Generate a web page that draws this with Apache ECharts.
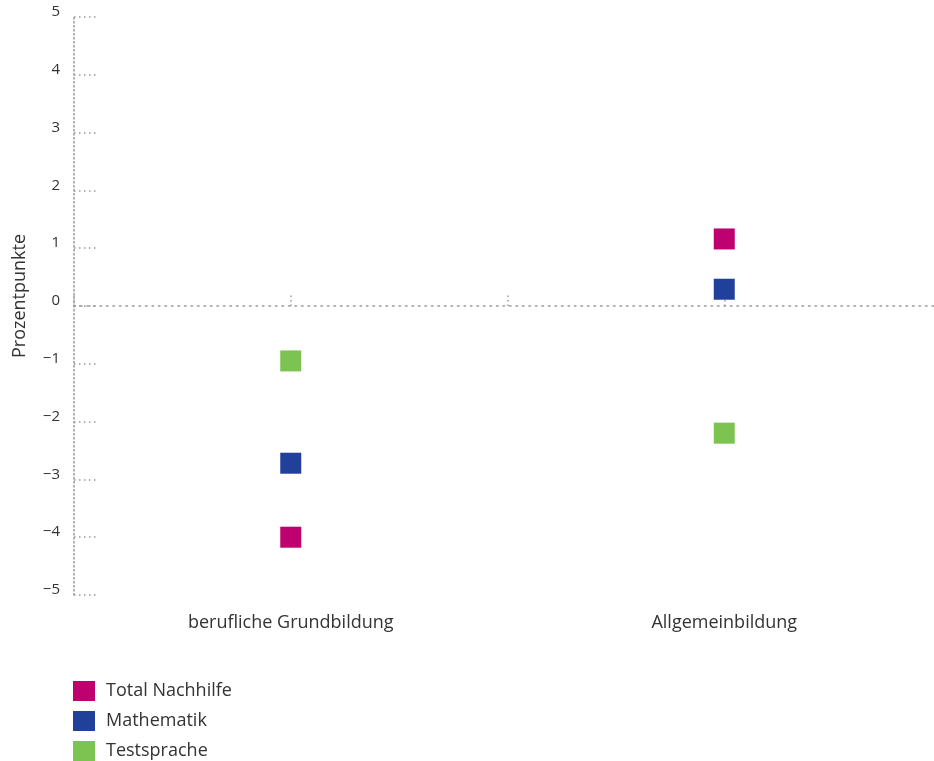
<!DOCTYPE html>
<html>
<head>
<meta charset="utf-8">
<title>Nachhilfe</title>
<script src="https://cdn.jsdelivr.net/npm/echarts@6/dist/echarts.min.js"></script>
<style>
  html, body { margin: 0; padding: 0; background: #fff; }
  #chart { width: 934px; height: 761px; }
</style>
</head>
<body>
<div id="chart"></div>
<script>
// Kategorien und Werte (Prozentpunkte)
const categories = ['berufliche Grundbildung', 'Allgemeinbildung'];
const seriesNames = ['Total Nachhilfe', 'Mathematik', 'Testsprache'];
const totalNachhilfe = [-4.0, 1.16];
const mathematik = [-2.72, 0.29];
const testsprache = [-0.95, -2.2];
const yTicks = [-5, -4, -3, -2, -1, 0, 1, 2, 3, 4, 5];

const colors = ['#bf006f', '#21409a', '#7dc352'];
const font = '"Open Sans", "Noto Sans", sans-serif';
const dotGrey = '#999';

const chart = echarts.init(document.getElementById('chart'));

function scatter(name, values, color) {
  return {
    name: name,
    type: 'scatter',
    xAxisIndex: 0,
    yAxisIndex: 0,
    symbol: 'rect',
    symbolSize: 21,
    itemStyle: { color: color, opacity: 1 },
    data: values
  };
}

const tickDots = { color: dotGrey, width: 1.5, type: [1.5, 3] };

const option = {
  animation: false,
  color: colors,
  textStyle: { fontFamily: font },
  grid: { left: 74, right: -7, top: 17, bottom: 166, outerBoundsMode: 'none', containLabel: false },
  legend: {
    orient: 'vertical',
    left: 73,
    top: 681,
    padding: 0,
    itemWidth: 22,
    itemHeight: 20,
    itemGap: 10,
    icon: 'rect',
    textStyle: { fontSize: 18, lineHeight: 20, color: '#333', fontFamily: font, padding: [0, 0, 0, 6] },
    data: seriesNames
  },
  xAxis: [
    {
      // Beschriftung unten
      type: 'category',
      data: categories,
      position: 'bottom',
      axisLine: { show: false, onZero: false },
      axisTick: { show: false },
      axisLabel: { margin: 19, fontSize: 18, color: '#333', fontFamily: font },
      splitLine: { show: false }
    },
    {
      // Nulllinie mit Grenzstrichen
      type: 'category',
      data: categories,
      position: 'bottom',
      axisLine: { show: true, onZero: true, onZeroAxisIndex: 0, lineStyle: { color: dotGrey, width: 1.5, type: [1.5, 5] } },
      axisTick: { show: true, inside: true, length: 12, interval: 0, lineStyle: tickDots },
      axisLabel: { show: false },
      splitLine: { show: false }
    },
    {
      // Striche in der Kategoriemitte
      type: 'category',
      data: categories,
      position: 'bottom',
      axisLine: { show: true, onZero: true, onZeroAxisIndex: 1, lineStyle: { opacity: 0 } },
      axisTick: { show: true, inside: true, alignWithLabel: true, length: 12, interval: 0, lineStyle: tickDots },
      axisLabel: { show: false },
      splitLine: { show: false }
    }
  ],
  yAxis: [
    {
      type: 'value',
      min: yTicks[0],
      max: yTicks[yTicks.length - 1],
      interval: 1,
      name: 'Prozentpunkte',
      nameLocation: 'middle',
      nameGap: 45,
      nameTextStyle: { fontSize: 18, color: '#333', fontFamily: font, padding: [0, 0, 0, 20] },
      axisLine: { show: true, onZero: false, lineStyle: { color: dotGrey, width: 1.5, type: [1.5, 2.5] } },
      axisTick: { show: true, inside: true, length: 22, lineStyle: { color: dotGrey, width: 1.5, type: [1.5, 3.5] } },
      axisLabel: {
        margin: 14,
        fontSize: 15,
        color: '#333',
        fontFamily: font,
        verticalAlign: 'bottom',
        lineHeight: 10,
        formatter: v => String(v).replace('-', '\u2212')
      },
      splitLine: { show: false }
    },
    {
      // unsichtbare Hilfsachse für die Mittelstriche
      type: 'value',
      min: yTicks[0],
      max: yTicks[yTicks.length - 1],
      interval: 1,
      position: 'left',
      axisLine: { show: false, onZero: false },
      axisTick: { show: false },
      axisLabel: { show: false },
      splitLine: { show: false }
    }
  ],
  series: [
    scatter(seriesNames[0], totalNachhilfe, colors[0]),
    scatter(seriesNames[1], mathematik, colors[1]),
    scatter(seriesNames[2], testsprache, colors[2])
  ]
};

chart.setOption(option);
</script>
</body>
</html>
